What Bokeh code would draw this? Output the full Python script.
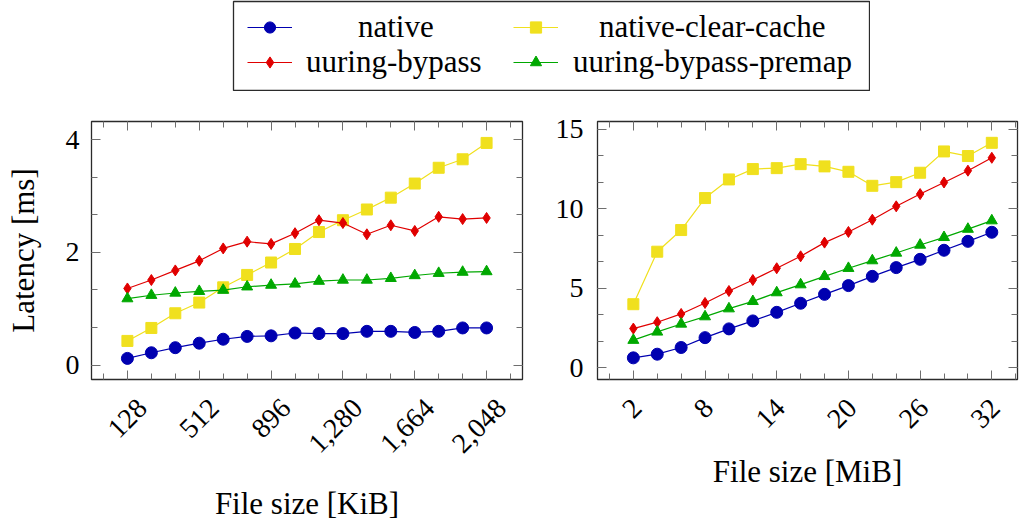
from math import pi
from bokeh.plotting import figure
from bokeh.models import (Range1d, LinearAxis, FixedTicker, NumeralTickFormatter,
                          Legend, LegendItem, ColumnDataSource, Spacer)
from bokeh.layouts import column, row
from bokeh.embed import file_html
from bokeh.resources import INLINE

# ---------------- data ----------------
kib_sizes = [128, 256, 384, 512, 640, 768, 896, 1024, 1152, 1280, 1408, 1536, 1664, 1792, 1920, 2048]
native_kib = [0.12, 0.22, 0.31, 0.39, 0.46, 0.51, 0.52, 0.57, 0.56, 0.56, 0.60, 0.60, 0.58, 0.60, 0.66, 0.66]
clear_kib = [0.43, 0.66, 0.92, 1.11, 1.38, 1.60, 1.82, 2.06, 2.36, 2.57, 2.76, 2.97, 3.22, 3.50, 3.65, 3.94]
bypass_kib = [1.36, 1.51, 1.68, 1.85, 2.07, 2.19, 2.15, 2.34, 2.57, 2.52, 2.32, 2.48, 2.38, 2.63, 2.59, 2.61]
premap_kib = [1.18, 1.24, 1.28, 1.31, 1.33, 1.39, 1.42, 1.44, 1.49, 1.51, 1.51, 1.54, 1.59, 1.63, 1.65, 1.66]

mib_sizes = [2, 4, 6, 8, 10, 12, 14, 16, 18, 20, 22, 24, 26, 28, 30, 32]
native_mib = [0.63, 0.86, 1.28, 1.90, 2.45, 2.95, 3.49, 4.06, 4.62, 5.17, 5.75, 6.30, 6.82, 7.39, 7.95, 8.52]
clear_mib = [4.00, 7.30, 8.66, 10.67, 11.84, 12.49, 12.55, 12.80, 12.66, 12.32, 11.44, 11.67, 12.26, 13.60, 13.31, 14.14]
bypass_mib = [2.47, 2.87, 3.39, 4.08, 4.83, 5.52, 6.26, 7.01, 7.87, 8.54, 9.31, 10.15, 10.92, 11.65, 12.39, 13.20]
premap_mib = [1.74, 2.26, 2.76, 3.22, 3.72, 4.18, 4.73, 5.23, 5.75, 6.26, 6.74, 7.22, 7.72, 8.20, 8.72, 9.25]

series_names = ["native", "native-clear-cache", "uuring-bypass", "uuring-bypass-premap"]

kib_major_ticks = [128, 512, 896, 1280, 1664, 2048]
kib_minor_ticks = [0, 128, 256, 384, 512, 640, 768, 896, 1024, 1152, 1280, 1408, 1536, 1664, 1792, 1920, 2048, 2176]
mib_major_ticks = [2, 8, 14, 20, 26, 32]
mib_minor_ticks = [0, 2, 4, 6, 8, 10, 12, 14, 16, 18, 20, 22, 24, 26, 28, 30, 32, 34]
lat_kib_major = [0, 2, 4]
lat_kib_minor = [0, 2 / 3, 4 / 3, 2, 8 / 3, 10 / 3, 4]
lat_mib_major = [0, 5, 10, 15]
lat_mib_minor = [0, 5 / 3, 10 / 3, 5, 20 / 3, 25 / 3, 10, 35 / 3, 40 / 3, 15]

# ---------------- style ----------------
FONT = "Liberation Serif"
TICK_COLOR = "#6e6e6e"
FRAME_COLOR = "#2b2b2b"
series_colors = ["#0000B0", "#F0E01E", "#E00000", "#00A800"]
series_markers = ["circle", "square", "diamond", "triangle"]
series_sizes = [12, 11, 11, 11]


def ticks_only(major, minor, **kw):
    return LinearAxis(ticker=FixedTicker(ticks=major, minor_ticks=minor),
                      major_label_overrides={t: "" for t in major},
                      major_label_text_font_size="0px", major_label_standoff=0,
                      axis_line_color=None,
                      major_tick_in=9, major_tick_out=0, minor_tick_in=6, minor_tick_out=0,
                      major_tick_line_color=TICK_COLOR, minor_tick_line_color=TICK_COLOR, **kw)


def make_panel(xs, ys_list, xr, yr, fw, xmaj, xmin, ymaj, ymin, shift, xlabel, ylabel,
               borders, ystandoff, xstandoff, xlabel_standoff):
    bl, br, bt, bb = borders
    p = figure(frame_width=fw, frame_height=258, x_range=Range1d(*xr), y_range=Range1d(*yr),
               x_axis_location=None, y_axis_location=None, output_backend="svg",
               toolbar_location=None, min_border_left=bl, min_border_right=br,
               min_border_top=bt, min_border_bottom=bb)
    p.xgrid.visible = False
    p.ygrid.visible = False
    p.outline_line_color = FRAME_COLOR
    p.outline_line_width = 1.3

    ya = LinearAxis(ticker=FixedTicker(ticks=ymaj, minor_ticks=ymin), axis_line_color=None,
                    major_tick_in=9, major_tick_out=0, minor_tick_in=6, minor_tick_out=0,
                    major_tick_line_color=TICK_COLOR, minor_tick_line_color=TICK_COLOR,
                    major_label_text_font=FONT, major_label_text_font_size="28px",
                    major_label_text_color="black", major_label_standoff=ystandoff)
    if ylabel:
        ya.axis_label = ylabel
        ya.axis_label_text_font = FONT
        ya.axis_label_text_font_size = "31px"
        ya.axis_label_text_font_style = "normal"
        ya.axis_label_text_color = "black"
        ya.axis_label_standoff = 22
    p.add_layout(ya, "left")
    p.add_layout(ticks_only(ymaj, ymin), "right")
    p.add_layout(ticks_only(xmaj, xmin), "above")
    p.add_layout(ticks_only(xmaj, xmin), "below")

    p.extra_x_ranges = {"lbl": Range1d(xr[0] - shift, xr[1] - shift)}
    xa = LinearAxis(x_range_name="lbl", ticker=FixedTicker(ticks=xmaj, minor_ticks=[]),
                    formatter=NumeralTickFormatter(format="0,0"),
                    major_label_orientation=pi / 4, axis_line_color=None,
                    major_tick_in=0, major_tick_out=0, minor_tick_in=0, minor_tick_out=0,
                    major_label_text_font=FONT, major_label_text_font_size="28px",
                    major_label_text_color="black", major_label_standoff=xstandoff,
                    axis_label=xlabel, axis_label_text_font=FONT,
                    axis_label_text_font_size="31px", axis_label_text_font_style="normal",
                    axis_label_text_color="black", axis_label_standoff=xlabel_standoff)
    p.add_layout(xa, "below")

    for ys, color, marker, size in zip(ys_list, series_colors, series_markers, series_sizes):
        src = ColumnDataSource(dict(x=xs, y=ys))
        p.line("x", "y", source=src, line_color=color, line_width=1.2)
        p.scatter("x", "y", source=src, marker=marker, size=size, fill_color=color,
                  line_color=color)
    return p


left = make_panel(kib_sizes, [native_kib, clear_kib, bypass_kib, premap_kib],
                  (-64, 2240), (-0.254, 4.32), 431, kib_major_ticks, kib_minor_ticks,
                  lat_kib_major, lat_kib_minor, 80, "File size [KiB]", "Latency [ms]",
                  (91, 8, 30, 145), 12, 24, 22)
right = make_panel(mib_sizes, [native_mib, clear_mib, bypass_mib, premap_mib],
                   (-1, 34.15), (-0.73, 15.48), 420, mib_major_ticks, mib_minor_ticks,
                   lat_mib_major, lat_mib_minor, 0.3, "File size [MiB]", None,
                   (67, 3, 30, 145), 14, 24, 15)

# ---------------- legend ----------------
lf = figure(width=638, height=91, x_range=Range1d(0, 1), y_range=Range1d(0, 1),
            x_axis_location=None, y_axis_location=None, output_backend="svg",
            toolbar_location=None, min_border=1)
lf.xgrid.visible = False
lf.ygrid.visible = False
lf.outline_line_color = FRAME_COLOR
lf.outline_line_width = 1.3

legend_pos = [(14, 45), (280, 45), (14, 10), (280, 10)]
legend_standoff = [66, 41, 14, 15]
for name, color, marker, pos, so in zip(series_names, series_colors, series_markers,
                                         legend_pos, legend_standoff):
    # sample lying outside the legend box's ranges: only the legend glyph shows
    hidden = ColumnDataSource(dict(x=[5, 6], y=[5, 6]))
    lr = lf.line("x", "y", source=hidden, line_color=color, line_width=1.2)
    sr = lf.scatter("x", "y", source=hidden, marker=marker, size=11,
                    fill_color=color, line_color=color)
    leg = Legend(items=[LegendItem(label=name, renderers=[lr, sr])], location=pos,
                 padding=0, margin=0, spacing=0, border_line_alpha=0,
                 background_fill_alpha=0, glyph_width=45, glyph_height=28,
                 label_height=28, label_standoff=so, label_text_font=FONT,
                 label_text_font_size="31px", label_text_color="black")
    lf.add_layout(leg)

layout = column(row(Spacer(width=232, height=91), lf), row(left, right))

open("out.html", "w").write(file_html(layout, INLINE))
